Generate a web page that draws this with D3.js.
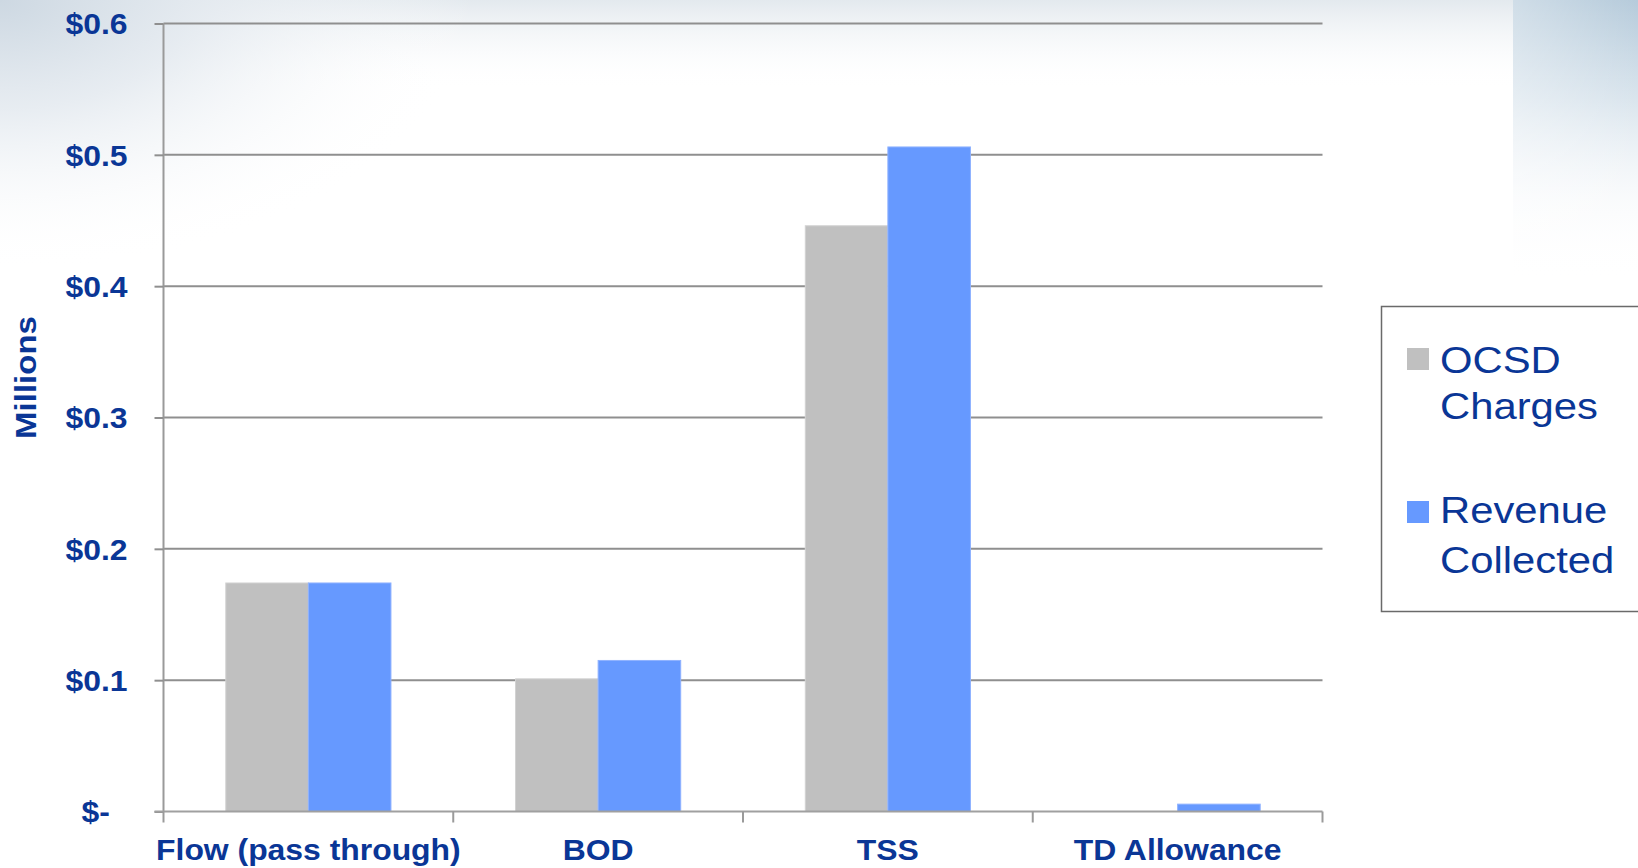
<!DOCTYPE html>
<html>
<head>
<meta charset="utf-8">
<script src="https://cdn.jsdelivr.net/npm/d3@7"></script>
<style>
  html, body { margin: 0; padding: 0; background: #ffffff; }
  svg { display: block; }
  text { font-family: "Liberation Sans", Arial, sans-serif; fill: #0a3696; }
  .stretch { transform-box: fill-box; }
</style>
</head>
<body>
<svg id="chart" width="1638" height="868"></svg>
<script>
// ---- data ----
const categories = ["Flow (pass through)", "BOD", "TSS", "TD Allowance"];
const seriesNames = ["OCSD Charges", "Revenue Collected"];
const legendLines = [["OCSD", "Charges"], ["Revenue", "Collected"]];
const ocsdCharges = [0.174, 0.101, 0.446, 0.0];
const revenueCollected = [0.174, 0.115, 0.506, 0.0056];
const yTicks = [0, 0.1, 0.2, 0.3, 0.4, 0.5, 0.6];
const yTickLabels = ["$-\u00a0\u00a0", "$0.1", "$0.2", "$0.3", "$0.4", "$0.5", "$0.6"];
const seriesColors = ["#c0c0c0", "#6699ff"];

(function () {
const svg = d3.select("#chart");
const W = 1638, H = 868;

// ---- background (faded photo feel) ----
const defs = svg.append("defs");
function stops(grad, list) {
  list.forEach(s => grad.append("stop").attr("offset", s[0]).attr("stop-color", s[1]).attr("stop-opacity", s[2]));
}
stops(defs.append("radialGradient").attr("id", "bgTL")
  .attr("cx", 0.0).attr("cy", 0).attr("r", 0.85).attr("fx", 0.0).attr("fy", 0),
  [[0, "#cdd8e2", 1], [0.4, "#e3e9ef", 0.85], [1, "#ffffff", 0]]);
stops(defs.append("linearGradient").attr("id", "bgTRv")
  .attr("x1", 0).attr("y1", 0).attr("x2", 0).attr("y2", 1),
  [[0, "#b6cbdb", 1], [0.3, "#d3e0ea", 0.85], [0.6, "#f3f6f9", 0.5], [0.85, "#ffffff", 0]]);
stops(defs.append("linearGradient").attr("id", "bgTRh")
  .attr("x1", 0).attr("y1", 0).attr("x2", 1).attr("y2", 0),
  [[0, "#ffffff", 0.35], [1, "#ffffff", 0]]);
stops(defs.append("linearGradient").attr("id", "bgTRedge")
  .attr("x1", 0).attr("y1", 0).attr("x2", 1).attr("y2", 0),
  [[0, "#eef2f6", 0], [1, "#e3eaf0", 0.8]]);
stops(defs.append("linearGradient").attr("id", "bgTop")
  .attr("x1", 0).attr("y1", 0).attr("x2", 0).attr("y2", 1),
  [[0, "#e3e9ee", 1], [1, "#ffffff", 0]]);

svg.append("rect").attr("x", 0).attr("y", 0).attr("width", W).attr("height", H).attr("fill", "#ffffff");
svg.append("rect").attr("x", 0).attr("y", 0).attr("width", W).attr("height", 90).attr("fill", "url(#bgTop)");
svg.append("rect").attr("x", 0).attr("y", 0).attr("width", 560).attr("height", 320).attr("fill", "url(#bgTL)");
svg.append("rect").attr("x", 1513).attr("y", 0).attr("width", 125).attr("height", 330).attr("fill", "url(#bgTRv)");
svg.append("rect").attr("x", 1513).attr("y", 0).attr("width", 125).attr("height", 330).attr("fill", "url(#bgTRh)");

// ---- scales ----
const pLeft = 163.5, pRight = 1322.5, pTop = 23.5, pBottom = 811.5;
const x0 = d3.scaleBand().domain(categories).range([pLeft, pRight])
  .paddingInner(0.43).paddingOuter(0.215);
const x1 = d3.scaleBand().domain(seriesNames).range([0, x0.bandwidth()]).padding(0);
const y = d3.scaleLinear().domain([0, 0.6]).range([pBottom, pTop]);

// ---- gridlines ----
svg.append("g").selectAll("line").data(yTicks.filter(d => d > 0)).join("line")
  .attr("x1", pLeft).attr("x2", pRight)
  .attr("y1", d => y(d)).attr("y2", d => y(d))
  .attr("stroke", "#8f8f8f").attr("stroke-width", 2);

// ---- bars ----
const rows = categories.map((c, i) => ({ cat: c, vals: [ocsdCharges[i], revenueCollected[i]] }));
const grp = svg.append("g").selectAll("g").data(rows).join("g")
  .attr("transform", d => `translate(${x0(d.cat)},0)`);
grp.selectAll("rect").data(d => d.vals.map((v, k) => ({ v, k })))
  .join("rect")
  .attr("x", d => x1(seriesNames[d.k]))
  .attr("width", x1.bandwidth())
  .attr("y", d => y(d.v))
  .attr("height", d => pBottom - y(d.v))
  .attr("fill", d => seriesColors[d.k])
  .attr("stroke", d => d.k === 0 ? "#d2d2d2" : "#8fb2ff")
  .attr("stroke-width", d => d.v > 0 ? 1 : 0);

// ---- y axis ----
const yAxis = d3.axisLeft(y).tickValues(yTicks).tickSize(9).tickPadding(27)
  .tickFormat((d, i) => yTickLabels[i]);
const yg = svg.append("g").attr("transform", `translate(${pLeft},0)`).call(yAxis);
yg.select(".domain").attr("stroke", "#9a9a9a").attr("stroke-width", 2).attr("d", `M0,${pTop}V${pBottom}`);
yg.selectAll(".tick line").attr("stroke", "#8f8f8f").attr("stroke-width", 2);
yg.selectAll(".tick text")
  .attr("class", "stretch")
  .style("font-family", "'Liberation Sans', Arial, sans-serif")
  .style("font-size", "29px").style("font-weight", "bold").style("fill", "#0a3696")
  .attr("dy", "0.36em").style("white-space", "pre")
  .style("transform-origin", "right center").style("transform", "scaleX(1.1)");

// ---- x axis ----
const xAxis = d3.axisBottom(x0).tickSize(0).tickPadding(0);
const xg = svg.append("g").attr("transform", `translate(0,${pBottom})`).call(xAxis);
xg.select(".domain").attr("stroke", "#a0a0a0").attr("stroke-width", 2).attr("d", `M${pLeft - 9},0H${pRight}`);
const boundaries = categories.map(c => x0(c) - x0.step() * x0.paddingInner() / 2).concat([pRight]);
boundaries[0] = pLeft;
xg.append("g").selectAll("line").data(boundaries).join("line")
  .attr("x1", d => d).attr("x2", d => d).attr("y1", 0).attr("y2", 11)
  .attr("stroke", "#9a9a9a").attr("stroke-width", 2);
xg.selectAll(".tick text")
  .attr("class", "stretch")
  .attr("y", 49).attr("dy", 0)
  .style("font-family", "'Liberation Sans', Arial, sans-serif")
  .style("font-size", "29px").style("font-weight", "bold").style("fill", "#0a3696")
  .style("transform-origin", "center center").style("transform", "scaleX(1.1)");

// ---- y axis title ----
svg.append("text")
  .attr("transform", "translate(36,377.5) rotate(-90) scale(1.1,1)")
  .attr("text-anchor", "middle")
  .style("font-size", "30px").style("font-weight", "bold")
  .text("Millions");

// ---- legend ----
const lg = svg.append("g");
lg.append("rect").attr("x", 1381.5).attr("y", 306.5).attr("width", 300).attr("height", 305)
  .attr("fill", "#ffffff").attr("stroke", "#6a6a6a").attr("stroke-width", 1.5);
const legendY = [348, 501];
const lineBase = [[372.7, 419.3], [523.3, 573.3]];
seriesNames.forEach((s, i) => {
  lg.append("rect").attr("x", 1407).attr("y", legendY[i]).attr("width", 22).attr("height", 22)
    .attr("fill", seriesColors[i]);
  legendLines[i].forEach((t, j) => {
    lg.append("text").attr("class", "stretch")
      .attr("x", 1440).attr("y", lineBase[i][j])
      .style("font-size", "37px")
      .style("transform-origin", "left center").style("transform", "scaleX(1.13)")
      .text(t);
  });
});
})();
</script>
</body>
</html>
